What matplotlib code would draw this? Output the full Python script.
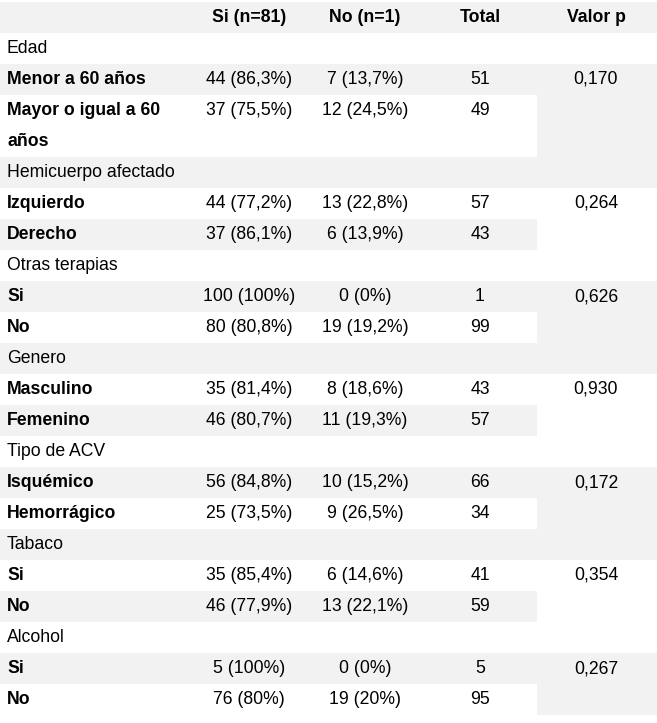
import matplotlib.pyplot as plt
from matplotlib.patches import Rectangle

# table contents
columns = ['Si (n=81)', 'No (n=1)', 'Total', 'Valor p']
groups = ['Edad', 'Hemicuerpo afectado', 'Otras terapias', 'Genero',
          'Tipo de ACV', 'Tabaco', 'Alcohol']
levels = [['Menor a 60 años', 'Mayor o igual a 60\naños'],
          ['Izquierdo', 'Derecho'],
          ['Si', 'No'],
          ['Masculino', 'Femenino'],
          ['Isquémico', 'Hemorrágico'],
          ['Si', 'No'],
          ['Si', 'No']]
si_vals = [['44 (86,3%)', '37 (75,5%)'], ['44 (77,2%)', '37 (86,1%)'],
           ['100 (100%)', '80 (80,8%)'], ['35 (81,4%)', '46 (80,7%)'],
           ['56 (84,8%)', '25 (73,5%)'], ['35 (85,4%)', '46 (77,9%)'],
           ['5 (100%)', '76 (80%)']]
no_vals = [['7 (13,7%)', '12 (24,5%)'], ['13 (22,8%)', '6 (13,9%)'],
           ['0 (0%)', '19 (19,2%)'], ['8 (18,6%)', '11 (19,3%)'],
           ['10 (15,2%)', '9 (26,5%)'], ['6 (14,6%)', '13 (22,1%)'],
           ['0 (0%)', '19 (20%)']]
totals = [[51, 49], [57, 43], [1, 99], [43, 57], [66, 34], [41, 59], [5, 95]]
p_values = ['0,170', '0,264', '0,626', '0,930', '0,172', '0,354', '0,267']

W, H = 657, 723
fig = plt.figure(figsize=(W / 100, H / 100), dpi=100)
ax = fig.add_axes([0, 0, 1, 1])
ax.set_xlim(0, W)
ax.set_ylim(H, 0)
ax.axis('off')

shade = '#f2f2f2'
fs = 12.7
font = ['Liberation Sans', 'DejaVu Sans']
top, unit = 2, 31.0
label_x = 7
col_x = [249, 365, 480, 596]
p_left = 537


def band(y, h, x0, x1, on):
    if on:
        ax.add_patch(Rectangle((x0, y), x1 - x0, h, facecolor=shade, edgecolor='none', zorder=0))


def put(x, y, s, bold=False, ha='center'):
    ax.text(x, y, s, ha=ha, va='center', fontsize=fs, family=font,
            fontweight='bold' if bold else 'normal', color='black')


# header
r = 0
y = top
band(y, unit, 0, W, True)
for cx, c in zip(col_x, columns):
    put(cx, y + unit / 2, c, bold=True)
y += unit

for g, grp in enumerate(groups):
    r += 1
    band(y, unit, 0, W, r % 2 == 0)
    put(label_x, y + unit / 2, grp, ha='left')
    y += unit

    # merged p-value cell takes the band of the first row of the pair
    pair_h = sum((lab.count('\n') + 1) * unit for lab in levels[g])
    band(y, pair_h, p_left, W, (r + 1) % 2 == 0)
    put(col_x[3], y + unit / 2, p_values[g])

    for j, lab in enumerate(levels[g]):
        r += 1
        lines = lab.split('\n')
        h = len(lines) * unit
        band(y, h, 0, p_left if j > 0 else W, r % 2 == 0)
        if j == 0:
            band(y, h, p_left, W, r % 2 == 0)
        for k, line in enumerate(lines):
            put(label_x, y + unit / 2 + k * unit, line, bold=True, ha='left')
        put(col_x[0], y + unit / 2, si_vals[g][j])
        put(col_x[1], y + unit / 2, no_vals[g][j])
        put(col_x[2], y + unit / 2, str(totals[g][j]))
        y += h

fig.savefig('out.png', dpi=100)
